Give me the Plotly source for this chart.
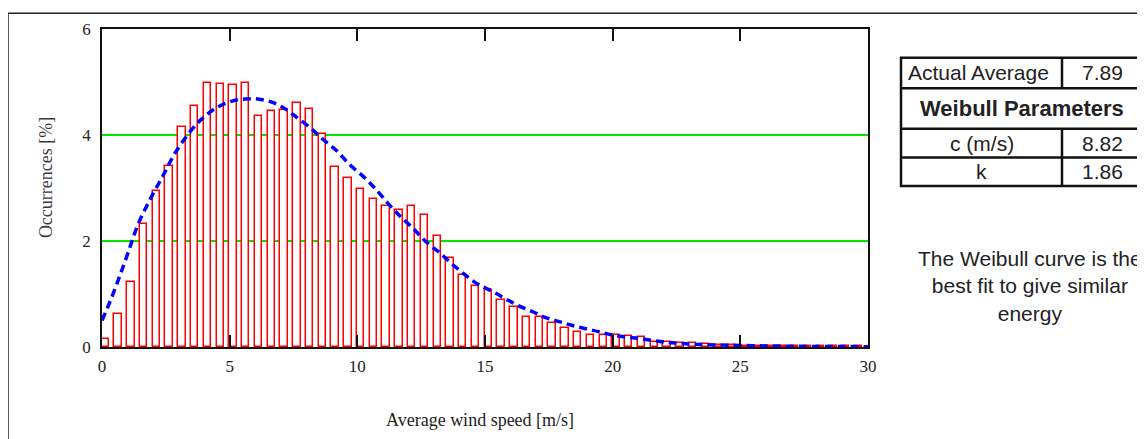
import plotly.graph_objects as go

# ---------------- data ----------------
wind_bins = [0.0, 0.5, 1.0, 1.5, 2.0, 2.5, 3.0, 3.5, 4.0, 4.5,
             5.0, 5.5, 6.0, 6.5, 7.0, 7.5, 8.0, 8.5, 9.0, 9.5,
             10.0, 10.5, 11.0, 11.5, 12.0, 12.5, 13.0, 13.5, 14.0, 14.5,
             15.0, 15.5, 16.0, 16.5, 17.0, 17.5, 18.0, 18.5, 19.0, 19.5,
             20.0, 20.5, 21.0, 21.5, 22.0, 22.5, 23.0, 23.5, 24.0, 24.5,
             25.0, 25.5, 26.0, 26.5, 27.0, 27.5, 28.0, 28.5, 29.0, 29.5]
occurrences = [0.16, 0.62, 1.22, 2.32, 2.95, 3.42, 4.15, 4.55, 4.98, 4.96,
               4.95, 4.98, 4.35, 4.45, 4.47, 4.60, 4.49, 4.01, 3.39, 3.19,
               2.99, 2.79, 2.66, 2.59, 2.66, 2.50, 2.09, 1.68, 1.35, 1.16,
               1.08, 0.89, 0.75, 0.56, 0.56, 0.46, 0.36, 0.29, 0.23, 0.22,
               0.22, 0.20, 0.18, 0.10, 0.10, 0.08, 0.07, 0.05, 0.04, 0.03,
               0.02, 0.02, 0.02, 0.01, 0.01, 0.01, 0.01, 0.01, 0.01, 0.02]

weibull_x = [0, 0.3, 0.65, 1.0, 1.4, 1.9, 2.4, 2.85, 3.4, 3.9, 4.5, 5.1, 5.6,
             6.1, 6.65, 7.15, 7.55, 8.15, 8.65, 9.2, 9.7, 10.25, 10.7, 11.2,
             11.65, 12.2, 12.7, 13.25, 13.7, 14.2, 14.7, 15.25, 15.8, 16.3,
             16.85, 17.35, 17.9, 18.4, 18.9, 19.45, 19.95, 20.5, 21.05, 21.6,
             22.1, 22.6, 23.2, 24, 25, 26, 27, 28, 29, 30]
weibull_y = [0.5, 0.84, 1.28, 1.75, 2.30, 2.80, 3.24, 3.65, 4.03, 4.30, 4.52,
             4.64, 4.68, 4.68, 4.62, 4.50, 4.36, 4.14, 3.92, 3.70, 3.44, 3.21,
             2.99, 2.71, 2.48, 2.23, 1.98, 1.77, 1.57, 1.37, 1.19, 1.06, 0.91,
             0.78, 0.67, 0.56, 0.48, 0.41, 0.35, 0.29, 0.23, 0.19, 0.16, 0.12,
             0.09, 0.07, 0.05, 0.04, 0.03, 0.02, 0.015, 0.01, 0.008, 0.005]

x_ticks = [0, 5, 10, 15, 20, 25, 30]
y_ticks = [0, 2, 4, 6]

table_header = "Weibull Parameters"
table_labels = ["Actual Average", "c (m/s)", "k"]
table_values = ["7.89", "8.82", "1.86"]
note_lines = ["The Weibull curve is the", "best fit to give similar", "energy"]

x_title = "Average wind speed [m/s]"
y_title = "Occurrences [%]"

# ---------------- layout helpers ----------------
# the page body has an 8px margin, so the figure is drawn 8px in from the corner
OFF = 8
W, H = 1145 - OFF, 439 - OFF
L, R, T, B = 102, 868, 25, 347  # plot area in screen pixels


def px(X):
    return (X - L) / (R - L)


def py(Y):
    return (B - Y) / (B - T)


serif = "Liberation Serif, Times New Roman, serif"
sans = "Liberation Sans, Arial, sans-serif"

fig = go.Figure()
fig.add_trace(go.Bar(
    x=wind_bins, y=occurrences, width=0.29, offset=-0.015,
    marker=dict(color="white", line=dict(color="#ff0000", width=1.5)),
    showlegend=False, hoverinfo="x+y"))
fig.add_trace(go.Scatter(
    x=weibull_x, y=weibull_y, mode="lines",
    line=dict(color="#0000ff", width=3.5, dash="8px,5px", shape="spline"),
    showlegend=False))

fig.update_layout(
    width=W, height=H,
    margin=dict(l=L - OFF, r=1145 - R, t=T - OFF, b=439 - B, pad=0),
    paper_bgcolor="white", plot_bgcolor="white",
    bargap=0,
    xaxis=dict(range=[0, 30], tickvals=x_ticks, ticks="inside", ticklen=12,
               tickwidth=1.5, tickcolor="#111", showline=True, linecolor="#111",
               linewidth=1.5, mirror="ticks", showgrid=False, zeroline=False,
               tickfont=dict(family=serif, size=17, color="#222"),
               ticklabelstandoff=3),
    yaxis=dict(range=[0, 6], tickvals=y_ticks, ticks="", showline=True,
               linecolor="#111", linewidth=1.5, mirror=True, showgrid=True,
               gridcolor="#00e600", gridwidth=1.5, zeroline=False,
               tickfont=dict(family=serif, size=17, color="#222"),
               ticklabelstandoff=6),
)

ann = []
ann.append(dict(x=px(480), y=py(421), xref="paper", yref="paper", text=x_title,
                showarrow=False, font=dict(family=serif, size=18, color="#222"),
                xanchor="center", yanchor="middle"))
ann.append(dict(x=px(46), y=py(176), xref="paper", yref="paper", text=y_title,
                textangle=-90, showarrow=False,
                font=dict(family=serif, size=18, color="#3a3a3a"),
                xanchor="center", yanchor="middle"))

# table geometry (screen pixels)
tx0, tx1, tmid = 901, 1142, 1062
ty = [54, 85, 126, 155, 184]
shapes = []
shapes.append(dict(type="rect", xref="paper", yref="paper", x0=px(8), x1=px(1160),
                   y0=py(9), y1=py(460), line=dict(color="#222", width=1.5)))
shapes.append(dict(type="rect", xref="paper", yref="paper", x0=px(tx0), x1=px(tx1),
                   y0=py(ty[0]), y1=py(ty[4]), line=dict(color="#111", width=2.5)))
for yy in ty[1:4]:
    shapes.append(dict(type="line", xref="paper", yref="paper", x0=px(tx0), x1=px(tx1),
                       y0=py(yy), y1=py(yy), line=dict(color="#111", width=2.5)))
for (a, b) in [(ty[0], ty[1]), (ty[2], ty[4])]:
    shapes.append(dict(type="line", xref="paper", yref="paper", x0=px(tmid), x1=px(tmid),
                       y0=py(a), y1=py(b), line=dict(color="#111", width=2.5)))

tfont = dict(family=sans, size=21, color="#222")
row_centers = [(ty[0] + ty[1]) / 2, (ty[2] + ty[3]) / 2, (ty[3] + ty[4]) / 2]
ann.append(dict(x=px(906), y=py(row_centers[0]), xref="paper", yref="paper",
                text=table_labels[0], showarrow=False, font=tfont,
                xanchor="left", yanchor="middle"))
for lab, yc in zip(table_labels[1:], row_centers[1:]):
    ann.append(dict(x=px((tx0 + tmid) / 2), y=py(yc), xref="paper", yref="paper",
                    text=lab, showarrow=False, font=tfont,
                    xanchor="center", yanchor="middle"))
for val, yc in zip(table_values, row_centers):
    ann.append(dict(x=px((tmid + tx1) / 2), y=py(yc), xref="paper", yref="paper",
                    text=val, showarrow=False, font=tfont,
                    xanchor="center", yanchor="middle"))
ann.append(dict(x=px((tx0 + tx1) / 2), y=py((ty[1] + ty[2]) / 2), xref="paper",
                yref="paper", text="<b>" + table_header + "</b>", showarrow=False,
                font=dict(family=sans, size=22, color="#222"),
                xanchor="center", yanchor="middle"))

ann.append(dict(x=px(1030), y=py(285), xref="paper", yref="paper",
                text="<br>".join(note_lines), showarrow=False, align="center",
                font=dict(family=sans, size=21, color="#222"),
                xanchor="center", yanchor="middle"))

fig.update_layout(annotations=ann, shapes=shapes)
fig.write_html("out.html")
